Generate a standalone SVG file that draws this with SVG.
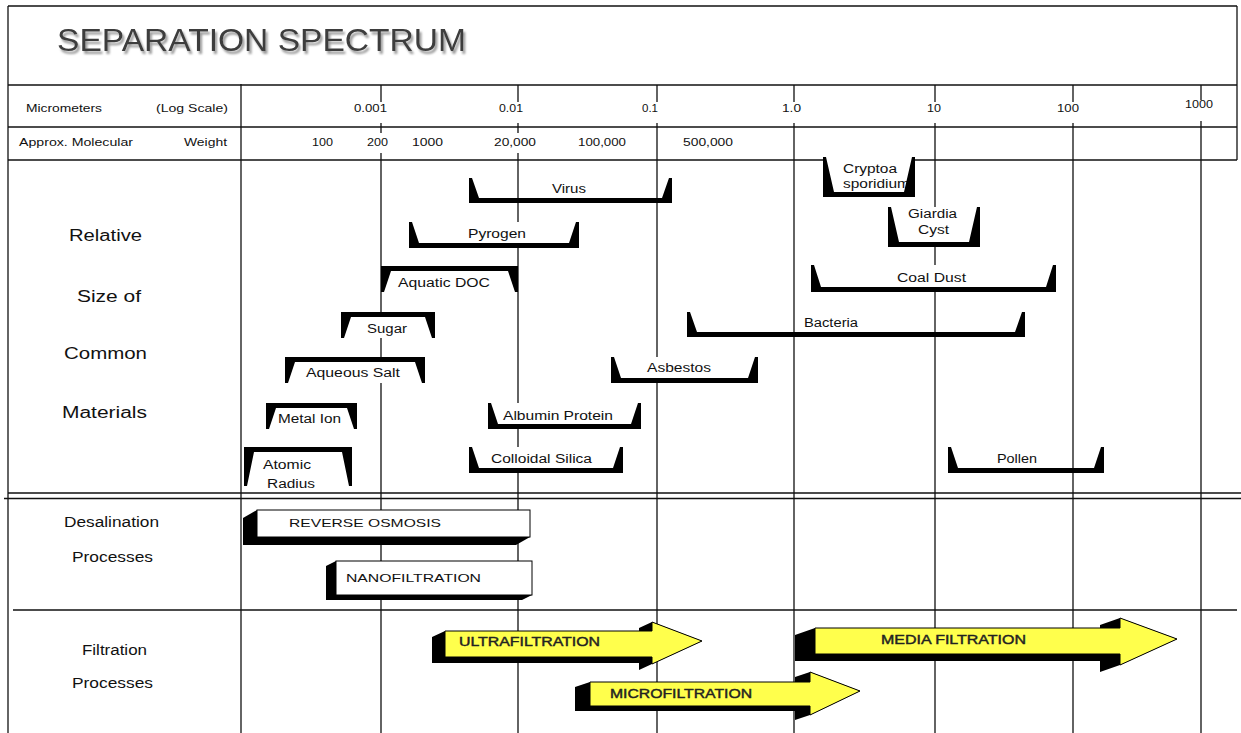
<svg xmlns="http://www.w3.org/2000/svg" width="1241" height="733" viewBox="0 0 1241 733">
<style>
.t{font-family:"Liberation Sans",Arial,sans-serif;fill:#111}
.h{font-size:11px}
.b{font-size:12px}
.l{font-size:16px}
.p{font-size:14px}
.c{font-size:11.5px}
.a{font-size:12px;fill:#222;stroke:#222;stroke-width:0.4}
.g{stroke:#111;stroke-width:1.3;fill:none}
.k{fill:#000}
.w{fill:#fff}
.y{fill:#ffff4c;stroke:#000;stroke-width:1}
.bx{fill:#fff;stroke:#000;stroke-width:1}
</style>
<defs>
<filter id="ts" x="-5%" y="-30%" width="115%" height="170%">
<feGaussianBlur in="SourceAlpha" stdDeviation="0.9"/>
<feOffset dx="2" dy="3" result="o"/>
<feFlood flood-color="#9a9a9a"/>
<feComposite in2="o" operator="in"/>
<feMerge><feMergeNode/><feMergeNode in="SourceGraphic"/></feMerge>
</filter>
</defs>
<rect x="0" y="0" width="1241" height="733" fill="#fff"/>

<g id="title">
<text class="t" x="57" y="51" font-size="32" textLength="409" lengthAdjust="spacingAndGlyphs" style="fill:#3c3c3c" filter="url(#ts)">SEPARATION SPECTRUM</text>
</g>

<g id="frame">
<line class="g" x1="8" y1="6" x2="1237" y2="6" stroke-width="1.5"/>
<line class="g" x1="8" y1="6" x2="8" y2="733" stroke-width="1.5"/>
<line class="g" x1="1237" y1="6" x2="1237" y2="160" stroke-width="1.5"/>
<line class="g" x1="8" y1="85" x2="1237" y2="85" stroke-width="1.5"/>
<line class="g" x1="8" y1="127" x2="1237" y2="127" stroke-width="1.5"/>
<line class="g" x1="8" y1="160" x2="1237" y2="160" stroke-width="1.5"/>
<line class="g" x1="8" y1="493" x2="1241" y2="493" stroke-width="1.5"/>
<line class="g" x1="4" y1="498.5" x2="1241" y2="498.5" stroke-width="4"/>
<line class="g" x1="13" y1="610" x2="1237" y2="610" stroke-width="3"/>
<line class="g" x1="241" y1="84" x2="241" y2="733" stroke-width="3"/>
</g>

<g id="grid">
<path class="g" d="M381 85V102M518 85V102M657 85V102M794 85V102M935 85V102M1073 85V102M1201 85V100"/>
<path class="g" d="M381 123V133M381 153V160M518 123V133M518 153V160M657 123V160M794 123V160M935 123V160M1073 123V160M1201 121V160"/>
<path class="g" d="M381 160V733M518 160V733M657 160V733M794 160V733M935 160V733M1073 160V733M1201 160V733"/>
</g>

<g id="header-text">
<text class="t h" x="26" y="112" textLength="76" lengthAdjust="spacingAndGlyphs">Micrometers</text>
<text class="t h" x="156" y="112" textLength="72" lengthAdjust="spacingAndGlyphs">(Log Scale)</text>
<text class="t h" x="354" y="112" textLength="33" lengthAdjust="spacingAndGlyphs">0.001</text>
<text class="t h" x="499" y="112" textLength="24" lengthAdjust="spacingAndGlyphs">0.01</text>
<text class="t h" x="642" y="112" textLength="16" lengthAdjust="spacingAndGlyphs">0.1</text>
<text class="t h" x="782" y="112" textLength="19" lengthAdjust="spacingAndGlyphs">1.0</text>
<text class="t h" x="927" y="112" textLength="14" lengthAdjust="spacingAndGlyphs">10</text>
<text class="t h" x="1057" y="112" textLength="22" lengthAdjust="spacingAndGlyphs">100</text>
<text class="t h" x="1185" y="108" textLength="28" lengthAdjust="spacingAndGlyphs">1000</text>
<text class="t h" x="19" y="146" textLength="114" lengthAdjust="spacingAndGlyphs">Approx. Molecular</text>
<text class="t h" x="184" y="146" textLength="43" lengthAdjust="spacingAndGlyphs">Weight</text>
<text class="t h" x="312" y="146" textLength="21" lengthAdjust="spacingAndGlyphs">100</text>
<text class="t h" x="367" y="146" textLength="21" lengthAdjust="spacingAndGlyphs">200</text>
<text class="t h" x="412" y="146" textLength="31" lengthAdjust="spacingAndGlyphs">1000</text>
<text class="t h" x="494" y="146" textLength="42" lengthAdjust="spacingAndGlyphs">20,000</text>
<text class="t h" x="578" y="146" textLength="48" lengthAdjust="spacingAndGlyphs">100,000</text>
<text class="t h" x="683" y="146" textLength="50" lengthAdjust="spacingAndGlyphs">500,000</text>
</g>

<g id="row-labels">
<text class="t l" x="69" y="241" textLength="73" lengthAdjust="spacingAndGlyphs">Relative</text>
<text class="t l" x="77" y="302" textLength="64" lengthAdjust="spacingAndGlyphs">Size of</text>
<text class="t l" x="64" y="359" textLength="83" lengthAdjust="spacingAndGlyphs">Common</text>
<text class="t l" x="62" y="418" textLength="85" lengthAdjust="spacingAndGlyphs">Materials</text>
<text class="t p" x="64" y="527" textLength="95" lengthAdjust="spacingAndGlyphs">Desalination</text>
<text class="t p" x="72" y="562" textLength="81" lengthAdjust="spacingAndGlyphs">Processes</text>
<text class="t p" x="82" y="655" textLength="65" lengthAdjust="spacingAndGlyphs">Filtration</text>
<text class="t p" x="72" y="688" textLength="81" lengthAdjust="spacingAndGlyphs">Processes</text>
</g>

<g id="virus">
<path class="k" d="M469 178H472L479 198H662L669 178H672V203H469Z"/>
<text class="t b" x="552" y="193" textLength="34" lengthAdjust="spacingAndGlyphs">Virus</text>
</g>
<g id="pyrogen">
<rect class="w" x="409" y="222" width="170" height="26"/>
<path class="k" d="M409 222H412L419 243H569L576 222H579V248H409Z"/>
<text class="t b" x="468" y="238" textLength="58" lengthAdjust="spacingAndGlyphs">Pyrogen</text>
</g>
<g id="aquatic-doc">
<rect class="w" x="381" y="266" width="137" height="26"/>
<path class="k" d="M381 266H518V292H515L508 271H391L384 292H381Z"/>
<text class="t b" x="398" y="287" textLength="92" lengthAdjust="spacingAndGlyphs">Aquatic DOC</text>
</g>
<g id="sugar">
<rect class="w" x="341" y="312" width="94" height="26"/>
<path class="k" d="M341 312H435V338H432L425 317H351L344 338H341Z"/>
<text class="t b" x="367" y="333" textLength="40" lengthAdjust="spacingAndGlyphs">Sugar</text>
</g>
<g id="aqueous-salt">
<rect class="w" x="285" y="357" width="140" height="26"/>
<path class="k" d="M285 357H425V383H422L415 362H295L288 383H285Z"/>
<text class="t b" x="306" y="377" textLength="94" lengthAdjust="spacingAndGlyphs">Aqueous Salt</text>
</g>
<g id="metal-ion">
<rect class="w" x="266" y="403" width="91" height="26"/>
<path class="k" d="M266 403H357V429H354L347 408H276L269 429H266Z"/>
<text class="t b" x="278" y="423" textLength="63" lengthAdjust="spacingAndGlyphs">Metal Ion</text>
</g>
<g id="atomic-radius">
<rect class="w" x="244" y="447" width="108" height="40"/>
<path class="k" d="M244 447H352V486H349L342 452H254L247 486H244Z"/>
<text class="t b" x="263" y="469" textLength="48" lengthAdjust="spacingAndGlyphs">Atomic</text>
<text class="t b" x="267" y="488" textLength="48" lengthAdjust="spacingAndGlyphs">Radius</text>
</g>
<g id="albumin-protein">
<rect class="w" x="488" y="403" width="153" height="26"/>
<path class="k" d="M488 403H491L498 424H631L638 403H641V429H488Z"/>
<text class="t b" x="503" y="420" textLength="110" lengthAdjust="spacingAndGlyphs">Albumin Protein</text>
</g>
<g id="colloidal-silica">
<rect class="w" x="469" y="447" width="154" height="26"/>
<path class="k" d="M469 447H472L479 468H613L620 447H623V473H469Z"/>
<text class="t b" x="491" y="463" textLength="101" lengthAdjust="spacingAndGlyphs">Colloidal Silica</text>
</g>
<g id="asbestos">
<rect class="w" x="611" y="357" width="147" height="26"/>
<path class="k" d="M611 357H614L621 378H748L755 357H758V383H611Z"/>
<text class="t b" x="647" y="372" textLength="64" lengthAdjust="spacingAndGlyphs">Asbestos</text>
</g>
<g id="bacteria">
<path class="k" d="M687 312H690L697 332H1015L1022 312H1025V337H687Z"/>
<text class="t b" x="804" y="327" textLength="54" lengthAdjust="spacingAndGlyphs">Bacteria</text>
</g>
<g id="cryptosporidium">
<rect class="w" x="823" y="157" width="92" height="40"/>
<text class="t b" x="843" y="173" textLength="54" lengthAdjust="spacingAndGlyphs">Cryptoa</text>
<text class="t b" x="843" y="188" textLength="67" lengthAdjust="spacingAndGlyphs">sporidium</text>
<path class="k" d="M823 157H826L834 192H904L912 157H915V197H823Z"/>
</g>
<g id="giardia-cyst">
<rect class="w" x="888" y="207" width="92" height="40"/>
<text class="t b" x="908" y="218" textLength="49" lengthAdjust="spacingAndGlyphs">Giardia</text>
<text class="t b" x="918" y="234" textLength="31" lengthAdjust="spacingAndGlyphs">Cyst</text>
<path class="k" d="M888 207H891L899 242H969L977 207H980V247H888Z"/>
</g>
<g id="coal-dust">
<rect class="w" x="811" y="265" width="245" height="27"/>
<path class="k" d="M811 265H814L821 287H1046L1053 265H1056V292H811Z"/>
<text class="t b" x="897" y="282" textLength="69" lengthAdjust="spacingAndGlyphs">Coal Dust</text>
</g>
<g id="pollen">
<path class="k" d="M948 447H951L958 468H1094L1101 447H1104V473H948Z"/>
<text class="t b" x="997" y="463" textLength="40" lengthAdjust="spacingAndGlyphs">Pollen</text>
</g>

<g id="reverse-osmosis">
<polygon class="k" points="243,518 257,510 530,510 530,537 516,545 243,545"/>
<rect class="bx" x="257" y="510" width="273" height="27"/>
<text class="t c" x="289" y="527" textLength="152" lengthAdjust="spacingAndGlyphs">REVERSE OSMOSIS</text>
</g>
<g id="nanofiltration">
<polygon class="k" points="326,566 336,561 532,561 532,595 522,600 326,600"/>
<rect class="bx" x="336" y="561" width="196" height="34"/>
<text class="t c" x="346" y="582" textLength="135" lengthAdjust="spacingAndGlyphs">NANOFILTRATION</text>
</g>

<g id="ultrafiltration">
<polygon class="k" points="432,637 445,631 639,631 639,628 652,622 702,641 652,664 639,670 639,663 432,663"/>
<polygon class="y" points="445,631 652,631 652,622 702,641 652,664 652,657 445,657"/>
<text class="t a" x="459" y="646" textLength="141" lengthAdjust="spacingAndGlyphs">ULTRAFILTRATION</text>
</g>
<g id="microfiltration">
<polygon class="k" points="575,687 590,682 795,682 795,677 810,672 860,691 810,715 795,720 795,711 575,711"/>
<polygon class="y" points="590,682 810,682 810,672 860,691 810,715 810,706 590,706"/>
<text class="t a" x="610" y="698" textLength="142" lengthAdjust="spacingAndGlyphs">MICROFILTRATION</text>
</g>
<g id="media-filtration">
<polygon class="k" points="795,635 815,628 1100,628 1100,625 1120,618 1177,639 1120,665 1100,672 1100,661 795,661"/>
<polygon class="y" points="815,628 1120,628 1120,618 1177,639 1120,665 1120,654 815,654"/>
<text class="t a" x="881" y="644" textLength="145" lengthAdjust="spacingAndGlyphs">MEDIA FILTRATION</text>
</g>
</svg>
